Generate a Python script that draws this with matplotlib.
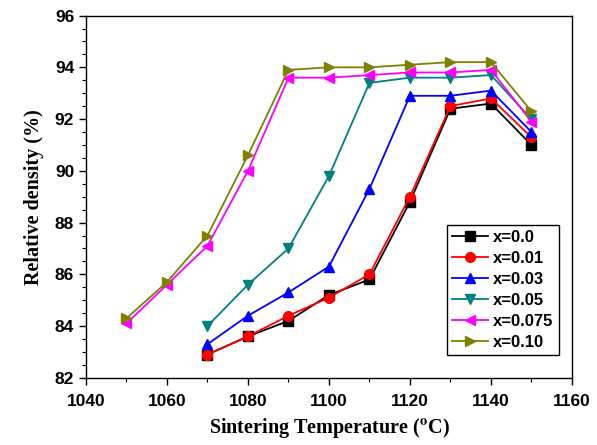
import matplotlib
matplotlib.use("Agg")
import matplotlib.pyplot as plt
from matplotlib.ticker import MultipleLocator

temps_short = [1070, 1080, 1090, 1100, 1110, 1120, 1130, 1140, 1150]
temps_long = [1050, 1060, 1070, 1080, 1090, 1100, 1110, 1120, 1130, 1140, 1150]

x00 = [82.9, 83.6, 84.2, 85.2, 85.8, 88.8, 92.4, 92.6, 91.0]
x01 = [82.9, 83.6, 84.4, 85.1, 86.0, 89.0, 92.5, 92.8, 91.3]
x03 = [83.3, 84.4, 85.3, 86.3, 89.3, 92.9, 92.9, 93.1, 91.5]
x05 = [84.0, 85.6, 87.0, 89.8, 93.4, 93.6, 93.6, 93.7, 92.0]
x075 = [84.1, 85.6, 87.1, 90.0, 93.6, 93.6, 93.7, 93.8, 93.8, 93.9, 91.9]
x10 = [84.3, 85.7, 87.5, 90.6, 93.9, 94.0, 94.0, 94.1, 94.2, 94.2, 92.3]

series = [
    ("x=0.0", temps_short, x00, "black", "s"),
    ("x=0.01", temps_short, x01, "red", "o"),
    ("x=0.03", temps_short, x03, "blue", "^"),
    ("x=0.05", temps_short, x05, "#008080", "v"),
    ("x=0.075", temps_long, x075, "#FF00FF", "<"),
    ("x=0.10", temps_long, x10, "#808000", ">"),
]

plt.rcParams["mathtext.fontset"] = "stix"

fig = plt.figure(figsize=(5.97, 4.45), dpi=100)
ax = fig.add_axes([0.144, 0.151, 0.814, 0.814])

for label, xs, ys, color, marker in series:
    ax.plot(xs, ys, color=color, marker=marker, markersize=7, lw=1.3, label=label)

ax.set_xlim(1040, 1160)
ax.set_ylim(82, 96)
ax.xaxis.set_major_locator(MultipleLocator(20))
ax.xaxis.set_minor_locator(MultipleLocator(10))
ax.yaxis.set_major_locator(MultipleLocator(2))
ax.yaxis.set_minor_locator(MultipleLocator(0.5))
ax.tick_params(which="major", direction="out", length=5, width=1.0, top=False, right=False)
ax.tick_params(axis="x", which="major", pad=7)
ax.tick_params(which="minor", direction="out", length=3, width=0.8, top=False, right=False)
for lab in ax.get_xticklabels() + ax.get_yticklabels():
    lab.set_fontfamily("Liberation Sans")
    lab.set_fontweight("bold")
    lab.set_fontsize(12.5)
for spine in ax.spines.values():
    spine.set_linewidth(1.0)

ax.set_xlabel(r"Sintering Temperature ($\mathbf{^o}$C)", family="Liberation Serif",
              fontweight="bold", fontsize=14.5, labelpad=5)
ax.set_ylabel("Relative density (%)", family="Liberation Serif",
              fontweight="bold", fontsize=14.5, labelpad=8)

leg = ax.legend(loc="lower right", bbox_to_anchor=(0.99, 0.04),
                prop={"family": "Liberation Sans", "weight": "bold", "size": 12},
                handlelength=2.2, labelspacing=0.36, handletextpad=0.3,
                borderpad=0.3, fancybox=False, edgecolor="black", framealpha=1)
leg.get_frame().set_linewidth(1.0)

fig.savefig("out.png", dpi=100)
